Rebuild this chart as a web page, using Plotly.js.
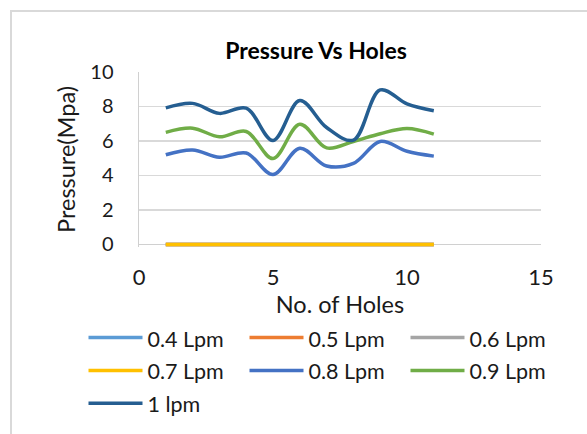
<!DOCTYPE html>
<html>
<head>
<meta charset="utf-8">
<script src="https://cdn.plot.ly/plotly-3.0.1.min.js"></script>
<style>
html,body{margin:0;padding:0;background:#fff;}
#wrap{position:relative;width:587px;height:434px;overflow:hidden;}
#chart{width:587px;height:434px;}
#frame{position:absolute;left:10px;top:10px;width:700px;height:600px;border-left:2px solid #d9d9d9;border-top:2px solid #d9d9d9;pointer-events:none;}
</style>
</head>
<body>
<div id="wrap"><div id="chart"></div><div id="frame"></div></div>
<script>
const holes = [1, 2, 3, 4, 5, 6, 7, 8, 9, 10, 11];
const seriesNames = ['0.4 Lpm', '0.5 Lpm', '0.6 Lpm', '0.7 Lpm', '0.8 Lpm', '0.9 Lpm', '1 lpm'];
const p04 = [0, 0, 0, 0, 0, 0, 0, 0, 0, 0, 0];
const p05 = [0, 0, 0, 0, 0, 0, 0, 0, 0, 0, 0];
const p06 = [0, 0, 0, 0, 0, 0, 0, 0, 0, 0, 0];
const p07 = [0, 0, 0, 0, 0, 0, 0, 0, 0, 0, 0];
const p08 = [5.2, 5.48, 5.05, 5.3, 4.05, 5.58, 4.55, 4.7, 5.97, 5.4, 5.12];
const p09 = [6.5, 6.74, 6.24, 6.55, 4.98, 6.97, 5.6, 5.97, 6.42, 6.72, 6.4];
const p10 = [7.92, 8.18, 7.6, 7.9, 6.03, 8.35, 6.78, 6.05, 8.96, 8.15, 7.75];
const seriesValues = [p04, p05, p06, p07, p08, p09, p10];
const colors = ['#5B9BD5', '#ED7D31', '#A5A5A5', '#FFC000', '#4472C4', '#70AD47', '#255E91'];
const xTicks = [0, 5, 10, 15];
const yTicks = [0, 2, 4, 6, 8, 10];

const FONT = 'Lato, "Open Sans", sans-serif';
const TXT = '#1a1a1a';
const traces = seriesNames.map((name, i) => ({
  type: 'scatter', mode: 'lines',
  name: '<span style="font-size:21.5px">' + name + '</span>',
  x: holes, y: seriesValues[i],
  line: {color: colors[i], width: 3.5, shape: 'spline', smoothing: 1},
  hoverinfo: 'x+y'
}));

const layout = {
  width: 587, height: 434,
  paper_bgcolor: '#ffffff', plot_bgcolor: '#ffffff',
  font: {family: FONT, size: 20, color: TXT},
  margin: {l: 139, r: 46, t: 72, b: 186.5, autoexpand: false},
  title: {text: '<b>Pressure Vs Holes</b>', font: {family: FONT, size: 23, color: '#000'},
          x: 316/587, xref: 'container', xanchor: 'center', y: 1 - 51/434, yref: 'container', yanchor: 'middle'},
  xaxis: {
    range: [0, 15], tickvals: xTicks, ticktext: xTicks.map(String),
    tickfont: {family: FONT, size: 22, color: TXT},
    showgrid: false, zeroline: false, showline: false, ticks: '',
    ticklabelstandoff: 15,
    title: {text: 'No. of Holes', font: {family: FONT, size: 23.5, color: TXT}, standoff: 2},
    automargin: false, fixedrange: true
  },
  yaxis: {
    range: [-0.15, 10], tickvals: yTicks, ticktext: yTicks.map(String),
    tickfont: {family: FONT, size: 20, color: TXT},
    showgrid: true, gridcolor: '#d9d9d9', gridwidth: 1.5,
    zeroline: true, zerolinecolor: '#d0d0d0', zerolinewidth: 1.5,
    showline: true, linecolor: '#d0d0d0', linewidth: 1.5, ticks: '',
    ticklabelstandoff: 20,
    title: {text: 'Pressure(Mpa)', font: {family: FONT, size: 23.5, color: TXT}, standoff: 8},
    automargin: false, fixedrange: true
  },
  showlegend: true,
  legend: {
    orientation: 'h', x: (83.5 - 139) / 402, xref: 'paper', xanchor: 'left',
    y: (245.5 - 314) / 173.5, yref: 'paper', yanchor: 'top',
    entrywidth: 92, entrywidthmode: 'pixels', itemwidth: 54,
    tracegroupgap: 0, font: {family: FONT, size: 23, color: TXT},
    bgcolor: 'rgba(0,0,0,0)', borderwidth: 0
  }
};

Plotly.newPlot('chart', traces, layout, {staticPlot: true, displayModeBar: false});
</script>
</body>
</html>
